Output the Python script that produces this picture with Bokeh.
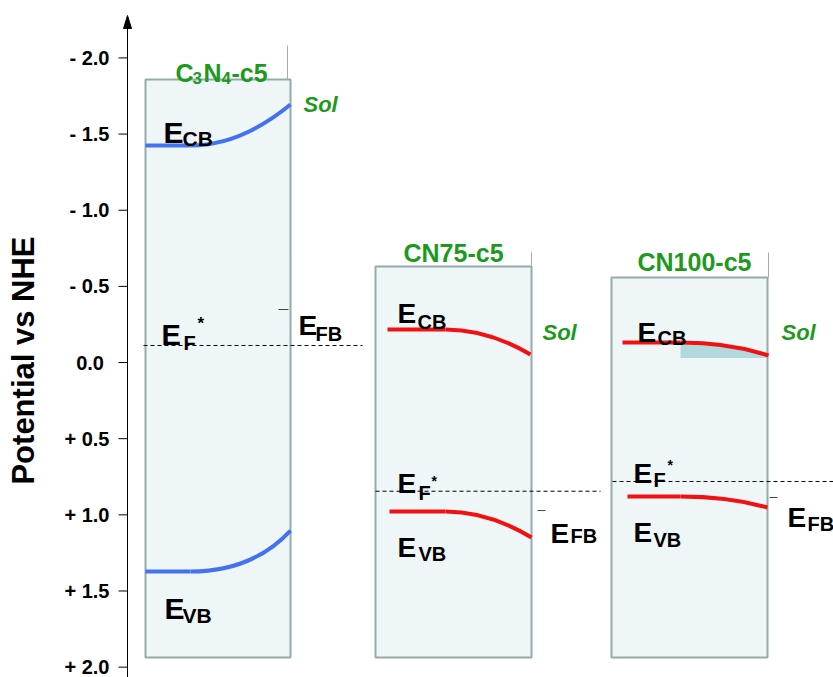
import math
from bokeh.plotting import figure
from bokeh.models import Range1d, FixedTicker, ColumnDataSource
from bokeh.core.properties import value, field
from bokeh.embed import file_html
from bokeh.resources import INLINE

# ---------------- data (potential vs NHE, in V; x in panel pixel units) ----------------
samples = ["C3N4-c5", "CN75-c5", "CN100-c5"]
box_left = [18, 248, 484]
box_right = [163, 404, 640]
box_top = [-1.858, -0.630, -0.558]
box_bottom = [1.937, 1.937, 1.937]
ef_star = [-0.112, 0.845, 0.781]
e_fb = [-0.348, 0.972, 0.886]

tick_values = [-2.0, -1.5, -1.0, -0.5, 0.0, 0.5, 1.0, 1.5, 2.0]
tick_labels = ["- 2.0", "- 1.5", "- 1.0", "- 0.5", "0.0", "+ 0.5", "+ 1.0", "+ 1.5", "+ 2.0"]

# band edges: flat (bulk) level and surface level, with start / bend / end positions
cb_flat = [-1.425, -0.217, -0.131]
cb_surface = [-1.694, -0.053, -0.046]
cb_start = [18, 260, 495]
cb_bend = [63, 318, 553]
cb_end = [163, 403, 641]
vb_flat = [1.372, 0.978, 0.880]
vb_surface = [1.103, 1.149, 0.952]
vb_start = [18, 262, 500]
vb_bend = [63, 318, 553]
vb_end = [163, 404, 640]
cb_ctrl = [0.5, 0.5, 0.55]   # where the bend's control point lies along the bent part
vb_ctrl = [0.62, 0.5, 0.55]

# depletion-region shading under CN100 conduction band
shade3_x = [553, 583, 613, 628, 641]
shade3_v = [-0.131, -0.125, -0.105, -0.079, -0.046]
shade3_bottom = -0.030

# ---------------- styling / layout ----------------
GREEN = "#1d9a1d"
BLUE = "#4272f2"
RED = "#f21010"
FONT = "Liberation Sans"

W, H = 833, 677
Y_TOP, Y_BOT = -2.377, 2.068
X0 = -12
p = figure(width=W, height=H, x_range=Range1d(X0, W - 127), y_range=Range1d(Y_BOT, Y_TOP),
           output_backend="svg", toolbar_location=None, x_axis_location=None,
           min_border_left=127 + X0, min_border_right=0, min_border_top=0, min_border_bottom=0,
           title=None)
p.xgrid.visible = False
p.ygrid.visible = False
p.outline_line_color = None
p.background_fill_color = "white"
p.border_fill_color = "white"


def py(pix):
    """screen pixel row -> potential value (layout helper for decorations)"""
    return Y_TOP + (Y_BOT - Y_TOP) * pix / H


ax = p.yaxis[0]
ax.ticker = FixedTicker(ticks=tick_values)
ax.major_label_overrides = {t: (l + "\u00a0" if l == "0.0" else l) for t, l in zip(tick_values, tick_labels)}
ax.major_label_text_font = FONT
ax.major_label_text_font_size = "20px"
ax.major_label_text_font_style = "bold"
ax.major_label_text_color = "black"
ax.major_tick_out = 0
ax.major_tick_in = 0
ax.minor_tick_out = 0
ax.minor_tick_in = 0
ax.major_label_standoff = 6
ax.axis_line_color = None
ax.major_tick_line_color = None
ax.minor_tick_line_color = None
ax.axis_label = "Potential vs NHE" + "\u00a0" * 5
ax.axis_label_text_font = FONT
ax.axis_label_text_font_size = "31px"
ax.axis_label_text_font_style = "bold"
ax.axis_label_text_color = "black"
ax.axis_label_standoff = 20

# drawn axis line, ticks and arrow head
p.segment(x0=[0], x1=[0], y0=[py(20)], y1=[Y_BOT], line_color="black", line_width=1)
p.segment(x0=[-9] * len(tick_values), x1=[0] * len(tick_values), y0=tick_values, y1=tick_values,
          line_color="black", line_width=1)
p.patch(x=[-4, 0, 4], y=[py(28), py(15), py(28)], fill_color="black", line_color="black")

# thin lines above the boxes
p.segment(x0=[160, 404, 641], x1=[160, 404, 641], y0=[py(45), py(252), py(252)], y1=box_top,
          line_color="#aaaaaa", line_width=1)

# boxes
p.quad(left=box_left, right=box_right, top=box_top, bottom=box_bottom,
       fill_color="#eef6f8", line_color="#96aaad", line_width=2)

# shaded depletion region (CN100)
p.patch(x=shade3_x + [shade3_x[-1], shade3_x[0]], y=shade3_v + [shade3_bottom, shade3_bottom],
        fill_color="#b2d9dd", line_color=None)

# EF* dashed lines
p.segment(x0=[16, 248, 485], x1=[235, 473, 706], y0=ef_star, y1=ef_star,
          line_color="black", line_width=1, line_dash="4 3")

# EFB ticks
p.segment(x0=[151, 410, 642], x1=[161, 418, 650], y0=e_fb, y1=e_fb,
          line_color="#444444", line_width=1)

# band curves: flat part + curved (quadratic) part
colors = [BLUE, RED, RED]
for flat, surf, s, b, e, c in [(cb_flat, cb_surface, cb_start, cb_bend, cb_end, cb_ctrl),
                                (vb_flat, vb_surface, vb_start, vb_bend, vb_end, vb_ctrl)]:
    p.segment(x0=s, x1=b, y0=flat, y1=flat, line_color=colors, line_width=4)
    p.quadratic(x0=b, y0=flat, x1=e, y1=surf,
                cx=[bb + cc * (ee - bb) for bb, ee, cc in zip(b, e, c)], cy=flat,
                line_color=colors, line_width=4)

# black labels: (text, x, y, size)
black = [
    ("E", 36, -1.510, 30), ("CB", 55, -1.471, 21),
    ("E", 37, 1.615, 30), ("VB", 55, 1.661, 21),
    ("E", 34, -0.184, 29), ("F", 56, -0.125, 20), ("*", 70, -0.259, 17),
    ("E", 171, -0.243, 28), ("FB", 188, -0.190, 20),
    ("E", 270, -0.322, 28), ("CB", 290, -0.269, 20),
    ("E", 270, 0.794, 28), ("F", 291, 0.854, 20), ("*", 304, 0.775, 14),
    ("E", 270, 1.215, 28), ("VB", 291, 1.254, 20),
    ("E", 423, 1.123, 28), ("FB", 443, 1.136, 20),
    ("E", 510, -0.197, 28), ("CB", 530, -0.164, 20),
    ("E", 506, 0.729, 28), ("F", 526, 0.768, 20), ("*", 540, 0.676, 14),
    ("E", 506, 1.116, 28), ("VB", 526, 1.162, 20),
    ("E", 660, 1.018, 28), ("FB", 680, 1.057, 20),
]
src_b = ColumnDataSource(dict(t=[b[0] for b in black], x=[b[1] for b in black],
                              y=[b[2] for b in black], fs=["%dpx" % b[3] for b in black]))
p.text(x="x", y="y", text="t", source=src_b, text_font=value(FONT), text_font_style="bold",
       text_font_size=field("fs"), text_color="black", text_align="left", text_baseline="alphabetic")

# green titles
green = [
    ("C", 48, -1.899, 25), ("3", 65, -1.866, 17), ("N", 76, -1.899, 25), ("4", 94, -1.866, 17),
    ("-c5", 104, -1.899, 25),
    ("CN75-c5", 276, -0.716, 25),
    ("CN100-c5", 510, -0.658, 25),
]
src_g = ColumnDataSource(dict(t=[g[0] for g in green], x=[g[1] for g in green],
                              y=[g[2] for g in green], fs=["%dpx" % g[3] for g in green]))
p.text(x="x", y="y", text="t", source=src_g, text_font=value(FONT), text_font_style="bold",
       text_font_size=field("fs"), text_color=GREEN, text_align="left", text_baseline="alphabetic")

# Sol labels
p.text(x=[176, 415, 654], y=[-1.694, -0.197, -0.197], text=["Sol", "Sol", "Sol"],
       text_font=value(FONT), text_font_style="bold italic", text_font_size="22px",
       text_color=GREEN, text_align="left", text_baseline="alphabetic")

open("out.html", "w").write(file_html(p, INLINE))
